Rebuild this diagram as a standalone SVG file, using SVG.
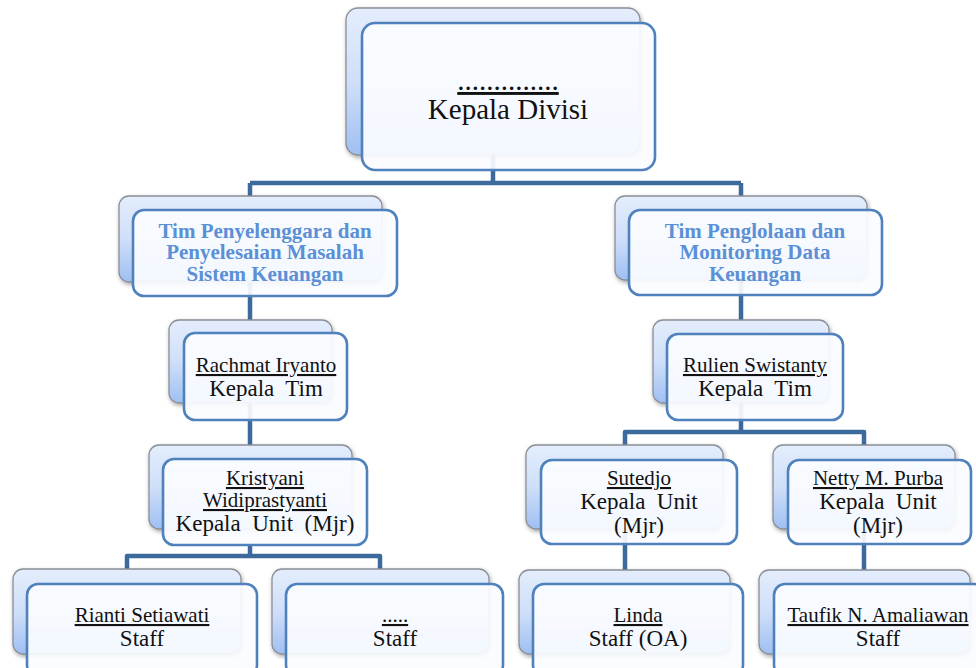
<svg xmlns="http://www.w3.org/2000/svg" width="976" height="668" viewBox="0 0 976 668">
<style>
.back{fill:url(#bg);stroke:#8a8f96;stroke-width:1.3;filter:url(#sh)}
.front{fill:#fafcff;fill-opacity:0.93;stroke:#4f81bd;stroke-width:2.6}
.con{fill:none;stroke:#3d6a9c;stroke-width:4.5;stroke-linejoin:round}
text{font-family:"Liberation Serif","Times New Roman",serif;font-size:21px;fill:#111;text-anchor:middle;white-space:pre}
.u{text-decoration:underline}
.r{font-size:23px}
.big{font-size:29px}
.team{font-weight:bold;fill:#5b8fd6;font-size:21px}
</style>
<defs>
<linearGradient id="bg" x1="0" y1="0" x2="0" y2="1">
<stop offset="0" stop-color="#e4edfc"/>
<stop offset="0.5" stop-color="#cfdff9"/>
<stop offset="1" stop-color="#9fbff2"/>
</linearGradient>
<filter id="sh" x="-10%" y="-10%" width="125%" height="130%">
<feDropShadow dx="1" dy="2" stdDeviation="2" flood-color="#000" flood-opacity="0.35"/>
</filter>
</defs>
<g id="connectors">
<path class="con" d="M493,155 V183 M250,183 H741 M250,183 V459 M741,183 V432"/>
<path class="con" d="M625,445 V432 H864 V445 M625,432 V584 M864,432 V584"/>
<path class="con" d="M250,545 V556 M127,570 V556 H380 V570"/>
</g>
<g id="node-kepala-divisi">
<rect class="back" x="346" y="8" width="294" height="147" rx="12"/>
<rect class="front" x="362" y="23" width="293" height="147" rx="13"/>
<text class="big u" x="508" y="90">..............</text>
<text class="big" x="508" y="119">Kepala Divisi</text>
</g>
<g id="node-tim-penyelenggara">
<rect class="back" x="119" y="196" width="263" height="86" rx="10"/>
<rect class="front" x="133" y="210" width="264" height="86" rx="11"/>
<text class="team" x="265" y="238">Tim Penyelenggara dan</text>
<text class="team" x="265" y="259">Penyelesaian Masalah</text>
<text class="team" x="265" y="281">Sistem Keuangan</text>
</g>
<g id="node-tim-penglolaan">
<rect class="back" x="615" y="196" width="252" height="84" rx="10"/>
<rect class="front" x="629" y="210" width="253" height="85" rx="11"/>
<text class="team" x="755" y="238">Tim Penglolaan dan</text>
<text class="team" x="755" y="259">Monitoring Data</text>
<text class="team" x="755" y="281">Keuangan</text>
</g>
<g id="node-rachmat">
<rect class="back" x="169" y="320" width="163" height="83" rx="10"/>
<rect class="front" x="184" y="333" width="163" height="87" rx="11"/>
<text class="u" x="266" y="372">Rachmat Iryanto</text>
<text class="r" x="266" y="396">Kepala  Tim</text>
</g>
<g id="node-rulien">
<rect class="back" x="653" y="320" width="176" height="83" rx="10"/>
<rect class="front" x="667" y="334" width="176" height="86" rx="11"/>
<text class="u" x="755" y="372">Rulien Swistanty</text>
<text class="r" x="755" y="396">Kepala  Tim</text>
</g>
<g id="node-kristyani">
<rect class="back" x="149" y="445" width="203" height="84" rx="10"/>
<rect class="front" x="163" y="459" width="204" height="86" rx="11"/>
<text class="u" x="265" y="485">Kristyani</text>
<text class="u" x="265" y="507">Widiprastyanti</text>
<text class="r" x="265" y="531">Kepala  Unit  (Mjr)</text>
</g>
<g id="node-sutedjo">
<rect class="back" x="526" y="445" width="197" height="84" rx="10"/>
<rect class="front" x="541" y="460" width="196" height="84" rx="11"/>
<text class="u" x="639" y="485">Sutedjo</text>
<text class="r" x="639" y="509">Kepala  Unit</text>
<text class="r" x="639" y="533">(Mjr)</text>
</g>
<g id="node-netty">
<rect class="back" x="773" y="445" width="182" height="84" rx="10"/>
<rect class="front" x="788" y="460" width="183" height="84" rx="11"/>
<text class="u" x="878" y="485">Netty M. Purba</text>
<text class="r" x="878" y="509">Kepala  Unit</text>
<text class="r" x="878" y="533">(Mjr)</text>
</g>
<g id="node-rianti">
<rect class="back" x="13" y="569" width="228" height="85" rx="10"/>
<rect class="front" x="27" y="584" width="230" height="92" rx="11"/>
<text class="u" x="142" y="622">Rianti Setiawati</text>
<text class="r" x="142" y="646">Staff</text>
</g>
<g id="node-staff">
<rect class="back" x="272" y="569" width="217" height="85" rx="10"/>
<rect class="front" x="286" y="584" width="217" height="92" rx="11"/>
<text class="u" x="395" y="622">.....</text>
<text class="r" x="395" y="646">Staff</text>
</g>
<g id="node-linda">
<rect class="back" x="519" y="570" width="211" height="84" rx="10"/>
<rect class="front" x="533" y="584" width="210" height="92" rx="11"/>
<text class="u" x="638" y="622">Linda</text>
<text class="r" x="638" y="646">Staff (OA)</text>
</g>
<g id="node-taufik">
<rect class="back" x="759" y="570" width="211" height="84" rx="10"/>
<rect class="front" x="774" y="584" width="211" height="92" rx="11"/>
<text class="u" x="878" y="622">Taufik N. Amaliawan</text>
<text class="r" x="878" y="646">Staff</text>
</g>
</svg>
